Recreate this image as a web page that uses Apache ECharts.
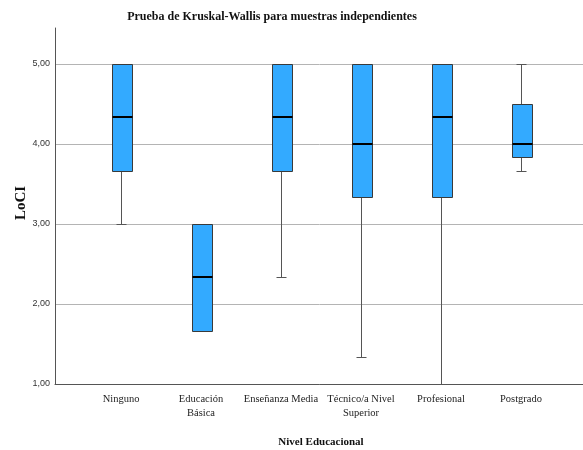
<!DOCTYPE html>
<html>
<head>
<meta charset="utf-8">
<script src="https://cdn.jsdelivr.net/npm/echarts@6/dist/echarts.min.js"></script>
<style>
  html, body { margin: 0; padding: 0; background: #fff; }
  #chart { width: 583px; height: 450px; }
</style>
</head>
<body>
<div id="chart"></div>
<script>
// Nivel educacional groups and LoCI box-plot statistics
const categories = ['Ninguno', 'Educación\nBásica', 'Enseñanza Media', 'Técnico/a Nivel\nSuperior', 'Profesional', 'Postgrado'];
const whiskerLow = [3.000, 1.667, 2.333, 1.333, 1.000, 3.667];
const quartile1  = [3.667, 1.667, 3.667, 3.333, 3.333, 3.833];
const medians    = [4.333, 2.333, 4.333, 4.000, 4.333, 4.000];
const quartile3  = [5.000, 3.000, 5.000, 5.000, 5.000, 4.500];
const whiskerHigh = [5.000, 3.000, 5.000, 5.000, 5.000, 5.000];
const yTicks = [1, 2, 3, 4, 5];

const rows = categories.map((c, i) => [i, whiskerLow[i], quartile1[i], medians[i], quartile3[i], whiskerHigh[i]]);

const serif = '"Liberation Serif", "Times New Roman", serif';
const crisp = v => Math.round(v) + 0.5;

function renderBox(params, api) {
  const x = api.value(0);
  const pLow = api.coord([x, api.value(1)]);
  const pQ1 = api.coord([x, api.value(2)]);
  const pMed = api.coord([x, api.value(3)]);
  const pQ3 = api.coord([x, api.value(4)]);
  const pHigh = api.coord([x, api.value(5)]);
  const band = api.size([1, 0])[0];
  const half = band * 0.125;
  const cap = half / 2;
  const cx = crisp(pQ1[0]);
  const children = [];
  const whiskerStyle = { stroke: '#555', lineWidth: 1 };
  if (pLow[1] - pQ1[1] > 0.5) {
    children.push({ type: 'line', shape: { x1: cx, y1: pQ1[1], x2: cx, y2: crisp(pLow[1]) }, style: whiskerStyle });
    children.push({ type: 'line', shape: { x1: cx - cap, y1: crisp(pLow[1]), x2: cx + cap, y2: crisp(pLow[1]) }, style: whiskerStyle });
  }
  if (pQ3[1] - pHigh[1] > 0.5) {
    children.push({ type: 'line', shape: { x1: cx, y1: pQ3[1], x2: cx, y2: crisp(pHigh[1]) }, style: whiskerStyle });
    children.push({ type: 'line', shape: { x1: cx - cap, y1: crisp(pHigh[1]), x2: cx + cap, y2: crisp(pHigh[1]) }, style: whiskerStyle });
  }
  const top = crisp(pQ3[1]), bottom = crisp(pQ1[1]);
  children.push({
    type: 'rect',
    shape: { x: crisp(cx - half), y: top, width: Math.round(half * 2), height: bottom - top },
    style: { fill: '#33aaff', stroke: '#3a3a3a', lineWidth: 1 }
  });
  children.push({
    type: 'line',
    shape: { x1: crisp(cx - half), y1: Math.round(pMed[1]), x2: crisp(cx - half) + Math.round(half * 2), y2: Math.round(pMed[1]) },
    style: { stroke: '#000', lineWidth: 2 }
  });
  return { type: 'group', children };
}

const chart = echarts.init(document.getElementById('chart'), null, { renderer: 'canvas' });
chart.setOption({
  animation: false,
  backgroundColor: '#fff',
  title: {
    text: 'Prueba de Kruskal-Wallis para muestras independientes',
    left: 267, top: 6, textAlign: 'center',
    textStyle: { fontFamily: serif, fontWeight: 'bold', fontSize: 12, color: '#111' }
  },
  grid: { left: 55, right: -4, top: 28, bottom: 66, outerBoundsMode: 'none' },
  xAxis: {
    type: 'value',
    min: -0.825, max: 5.825,
    name: 'Nivel Educacional',
    nameLocation: 'middle', nameGap: 53, nameMoveOverlap: false,
    nameTextStyle: { fontFamily: serif, fontWeight: 'bold', fontSize: 11, color: '#111' },
    axisLine: { show: true, onZero: false, lineStyle: { color: '#555', width: 1 } },
    axisTick: { show: false },
    splitLine: { show: false },
    axisLabel: {
      customValues: categories.map((c, i) => i),
      formatter: v => categories[Math.round(v)],
      fontFamily: serif, fontSize: 10.5, color: '#222', lineHeight: 14, margin: 8
    }
  },
  yAxis: {
    type: 'value',
    min: 1, max: 5.45, interval: 1,
    name: 'LoCI',
    nameLocation: 'middle', nameGap: 26, nameMoveOverlap: false,
    nameTextStyle: { fontFamily: serif, fontWeight: 'bold', fontSize: 15, color: '#111', padding: [0, 0, 0, 6] },
    axisLine: { show: true, onZero: false, lineStyle: { color: '#555', width: 1 } },
    axisTick: { show: false },
    axisLabel: {
      showMaxLabel: false,
      formatter: v => yTicks.includes(v) ? v.toFixed(2).replace('.', ',') : '',
      fontFamily: '"Liberation Sans Narrow", "Liberation Sans", sans-serif',
      fontSize: 9, color: '#333', margin: 5
    },
    splitLine: { show: true, showMaxLine: false, lineStyle: { color: '#b4b4b4', width: 1 } }
  },
  series: [{
    type: 'custom',
    renderItem: renderBox,
    encode: { x: 0, y: [1, 2, 3, 4, 5] },
    data: rows
  }]
});
</script>
</body>
</html>
